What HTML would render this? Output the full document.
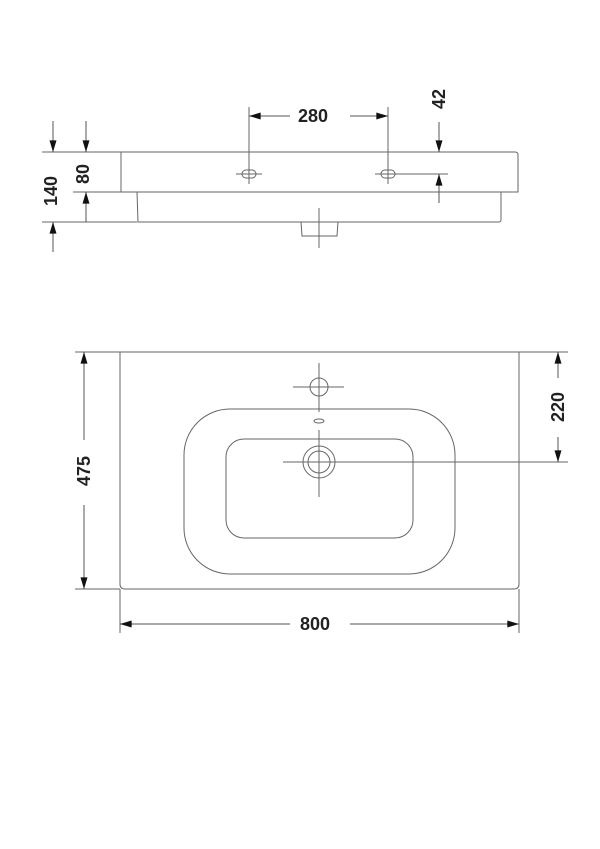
<!DOCTYPE html>
<html><head><meta charset="utf-8"><style>
html,body{margin:0;padding:0;background:#fff;}
svg{display:block}
text{font-family:"Liberation Sans",Arial,sans-serif;font-weight:bold;font-size:18px;fill:#222;}
</style></head><body>
<svg width="600" height="849" viewBox="0 0 600 849" xmlns="http://www.w3.org/2000/svg">
<defs>
<marker id="a" viewBox="0 0 10 6" refX="10" refY="3" markerWidth="14" markerHeight="7" orient="auto" markerUnits="userSpaceOnUse"><path d="M0,0 L10,3 L0,6 Z" fill="#111"/></marker>
</defs>
<g stroke="#666" stroke-width="1" fill="none">
<path d="M121,152 H515 Q518,152 518,155 V192 H121 Z"/>
<path d="M137,192 L138,222 H499 Q501,222 501,219 V192"/>
<path d="M301,222 L302,236 H337 L338,222"/>
<line x1="319" y1="208" x2="319" y2="248"/>
<rect x="242" y="170" width="14" height="8" rx="4"/>
<rect x="381" y="170" width="14" height="8" rx="4"/>
<line x1="236" y1="174" x2="262" y2="174"/>
<line x1="375" y1="174" x2="448" y2="174"/>
<line x1="249" y1="107" x2="249" y2="184"/>
<line x1="388" y1="107" x2="388" y2="184"/>
<line x1="42" y1="152" x2="121" y2="152"/>
<line x1="73" y1="192" x2="121" y2="192"/>
<line x1="42" y1="222" x2="137" y2="222"/>
<path d="M120,352 H519 V584 Q519,589 514,589 H125 Q120,589 120,584 Z"/>
<rect x="184" y="409" width="271" height="165" rx="46"/>
<rect x="226" y="439" width="187" height="99" rx="18"/>
<circle cx="319" cy="387" r="9"/>
<line x1="293" y1="387" x2="344" y2="387"/>
<line x1="319" y1="363" x2="319" y2="412"/>
<ellipse cx="319" cy="421" rx="5" ry="2"/>
<circle cx="319" cy="462" r="16"/>
<circle cx="319" cy="462" r="11"/>
<line x1="319" y1="430" x2="319" y2="497"/>
<line x1="283" y1="462" x2="568" y2="462"/>
<line x1="75" y1="352" x2="120" y2="352"/>
<line x1="75" y1="589" x2="120" y2="589"/>
<line x1="519" y1="352" x2="568" y2="352"/>
<line x1="120" y1="589" x2="120" y2="633"/>
<line x1="519" y1="589" x2="519" y2="633"/>
</g>
<g stroke="#555" stroke-width="1" fill="none">
<line x1="53" y1="121" x2="53" y2="152" marker-end="url(#a)"/>
<line x1="53" y1="252" x2="53" y2="222" marker-end="url(#a)"/>
<line x1="86" y1="121" x2="86" y2="152" marker-end="url(#a)"/>
<line x1="86" y1="222" x2="86" y2="192" marker-end="url(#a)"/>
<line x1="290" y1="116" x2="249" y2="116" marker-end="url(#a)"/>
<line x1="350" y1="116" x2="388" y2="116" marker-end="url(#a)"/>
<line x1="439" y1="122" x2="439" y2="152" marker-end="url(#a)"/>
<line x1="439" y1="203" x2="439" y2="174" marker-end="url(#a)"/>
<line x1="84" y1="440" x2="84" y2="352" marker-end="url(#a)"/>
<line x1="84" y1="505" x2="84" y2="589" marker-end="url(#a)"/>
<line x1="558" y1="378" x2="558" y2="352" marker-end="url(#a)"/>
<line x1="558" y1="437" x2="558" y2="462" marker-end="url(#a)"/>
<line x1="290" y1="624" x2="120" y2="624" marker-end="url(#a)"/>
<line x1="350" y1="624" x2="519" y2="624" marker-end="url(#a)"/>
</g>
<text x="313" y="122" text-anchor="middle">280</text>
<text transform="translate(445,99) rotate(-90)" text-anchor="middle">42</text>
<text transform="translate(57,191) rotate(-90)" text-anchor="middle">140</text>
<text transform="translate(89,174) rotate(-90)" text-anchor="middle">80</text>
<text transform="translate(90,471) rotate(-90)" text-anchor="middle">475</text>
<text transform="translate(564,407) rotate(-90)" text-anchor="middle">220</text>
<text x="315" y="630" text-anchor="middle">800</text>
</svg>
</body></html>
